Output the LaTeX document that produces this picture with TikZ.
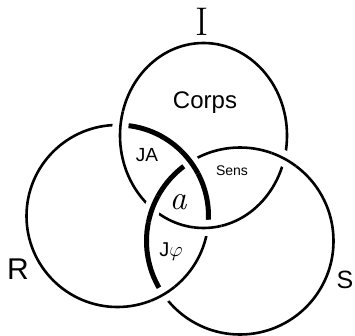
\documentclass[tikz,border=0pt]{standalone}
\usepackage{fontspec}
\setsansfont{Liberation Sans}
\usetikzlibrary{intersections}
\begin{document}
\begin{tikzpicture}[x=1pt,y=1pt,
  ring/.style={line width=2.6pt},
  heavy/.style={line width=5pt},
  gapline/.style={white, line width=16pt},
  lbl/.style={inner sep=0pt}]
\useasboundingbox (0,0) rectangle (355,335);
\coordinate (cI) at (203.5,199.5);
\coordinate (cR) at (117.5,119);
\coordinate (cS) at (240,94);
\path[name path=pI] (cI) ellipse [x radius=83.5, y radius=92.5];
\path[name path=pR] (cR) circle [radius=91];
\path[name path=pS] (cS) circle [radius=93.5];
\path[name intersections={of=pI and pR, name=ir}];
\path[name intersections={of=pS and pI, name=si}];
\path[name intersections={of=pR and pS, name=rs}];
% base rings
\draw[ring] (cI) ellipse [x radius=83.5, y radius=92.5];
\draw[ring] (cR) circle [radius=91];
\draw[ring] (cS) circle [radius=93.5];
% heavy arcs
\begin{scope}
  \clip (cI) ellipse [x radius=83.5, y radius=92.5];
  \draw[heavy] (cR) circle [radius=91];
\end{scope}
\begin{scope}
  \clip (cR) circle [radius=91];
  \draw[heavy] (cS) circle [radius=93.5];
\end{scope}
% crossings
\foreach \k in {1,2}{
  \begin{scope}
    \clip (ir-\k) circle [radius=14];
    \draw[gapline] (cI) ellipse [x radius=83.5, y radius=92.5];
    \draw[ring] (cI) ellipse [x radius=83.5, y radius=92.5];
  \end{scope}
  \begin{scope}
    \clip (si-\k) circle [radius=14];
    \draw[gapline] (cS) circle [radius=93.5];
    \draw[ring] (cS) circle [radius=93.5];
    \clip (cR) circle [radius=91];
    \draw[heavy] (cS) circle [radius=93.5];
  \end{scope}
  \begin{scope}
    \clip (rs-\k) circle [radius=14];
    \draw[gapline] (cR) circle [radius=91];
    \draw[ring] (cR) circle [radius=91];
    \clip (cI) ellipse [x radius=83.5, y radius=92.5];
    \draw[heavy] (cR) circle [radius=91];
  \end{scope}
}
% labels
\node[lbl, font=\fontsize{40}{40}\selectfont] (tI) at (202,313) {I};
\node[lbl, font=\sffamily\fontsize{30}{30}\selectfont] (tR) at (18,66) {R};
\node[lbl, font=\sffamily\fontsize{25}{25}\selectfont] (tS) at (345,55) {S};
\node[lbl, font=\sffamily\fontsize{24}{24}\selectfont] (corps) at (205,232) {Corps};
\node[lbl, font=\sffamily\fontsize{19}{19}\selectfont] (ja) at (147,180) {JA};
\node[lbl, font=\sffamily\fontsize{14}{14}\selectfont] (sens) at (232,164) {Sens};
\node[lbl, font=\itshape\fontsize{34}{34}\selectfont] (ta) at (178,133) {a};
\node[lbl, font=\sffamily\fontsize{20}{20}\selectfont] (jphi) at (171,83) {J$\varphi$};
\end{tikzpicture}
\end{document}
